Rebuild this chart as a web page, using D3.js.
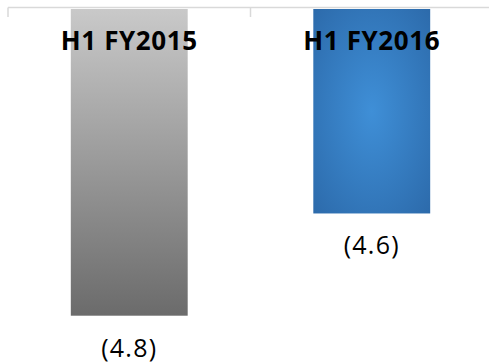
<!DOCTYPE html>
<html><head><meta charset="utf-8">
<script src="https://cdn.jsdelivr.net/npm/d3@7"></script>
<style>html,body{margin:0;padding:0;background:#fff;}svg{display:block;}</style>
</head><body>
<svg id="c" width="489" height="364"></svg>
<script>
const categories = ["H1 FY2015", "H1 FY2016"];
const values = [-4.8, -4.6];
const valueLabels = ["(4.8)", "(4.6)"];
const axisBase = -4.2;

const svg = d3.select("#c");
const x = d3.scaleBand().domain(categories).range([8, 493]).paddingInner(0.518).paddingOuter(0.259);
const y = d3.scaleLinear().domain([axisBase, -4.8]).range([9, 315.7]);

const defs = svg.append("defs");
const g1 = defs.append("linearGradient").attr("id","gGray").attr("x1",0).attr("y1",0).attr("x2",0).attr("y2",1);
g1.append("stop").attr("offset","0%").attr("stop-color","#c9c9c9");
g1.append("stop").attr("offset","100%").attr("stop-color","#6b6b6b");
const g2 = defs.append("radialGradient").attr("id","gBlue").attr("cx","50%").attr("cy","50%").attr("r","75%");
g2.append("stop").attr("offset","0%").attr("stop-color","#3f8fd7");
g2.append("stop").attr("offset","100%").attr("stop-color","#2b68a8");
const fills = ["url(#gGray)", "url(#gBlue)"];

// axis
const axisG = svg.append("g").attr("transform","translate(0,7.5)");
axisG.append("line").attr("x1",8).attr("x2",493).attr("y1",0).attr("y2",0).attr("stroke","#d9d9d9").attr("stroke-width",1.5);
const tickPos = categories.map(c => x(c) - x.step()*x.paddingInner()/2).concat([493]);
tickPos[0] = 8;
axisG.selectAll("line.tick").data(tickPos).join("line").attr("class","tick")
  .attr("x1",d=>d).attr("x2",d=>d).attr("y1",0).attr("y2",9.5)
  .attr("stroke","#d9d9d9").attr("stroke-width",1.5);

// bars
svg.selectAll("rect.bar").data(categories).join("rect").attr("class","bar")
  .attr("x",d=>x(d)).attr("width",x.bandwidth())
  .attr("y",y(axisBase)).attr("height",(d,i)=>y(values[i])-y(axisBase))
  .attr("fill",(d,i)=>fills[i]);

// category labels
svg.selectAll("text.cat").data(categories).join("text").attr("class","cat")
  .attr("x",d=>x(d)+x.bandwidth()/2).attr("y",50)
  .attr("text-anchor","middle").attr("font-family","'Open Sans', sans-serif")
  .attr("font-weight","bold").attr("font-size",26).attr("letter-spacing",0.6)
  .attr("fill","#000").text(d=>d);

// value labels
svg.selectAll("text.val").data(categories).join("text").attr("class","val")
  .attr("x",d=>x(d)+x.bandwidth()/2).attr("y",(d,i)=>y(values[i])+41)
  .attr("text-anchor","middle").attr("font-family","'Open Sans', sans-serif")
  .attr("font-size",25).attr("letter-spacing",1.2)
  .attr("fill","#000").text((d,i)=>valueLabels[i]);
</script>
</body></html>
